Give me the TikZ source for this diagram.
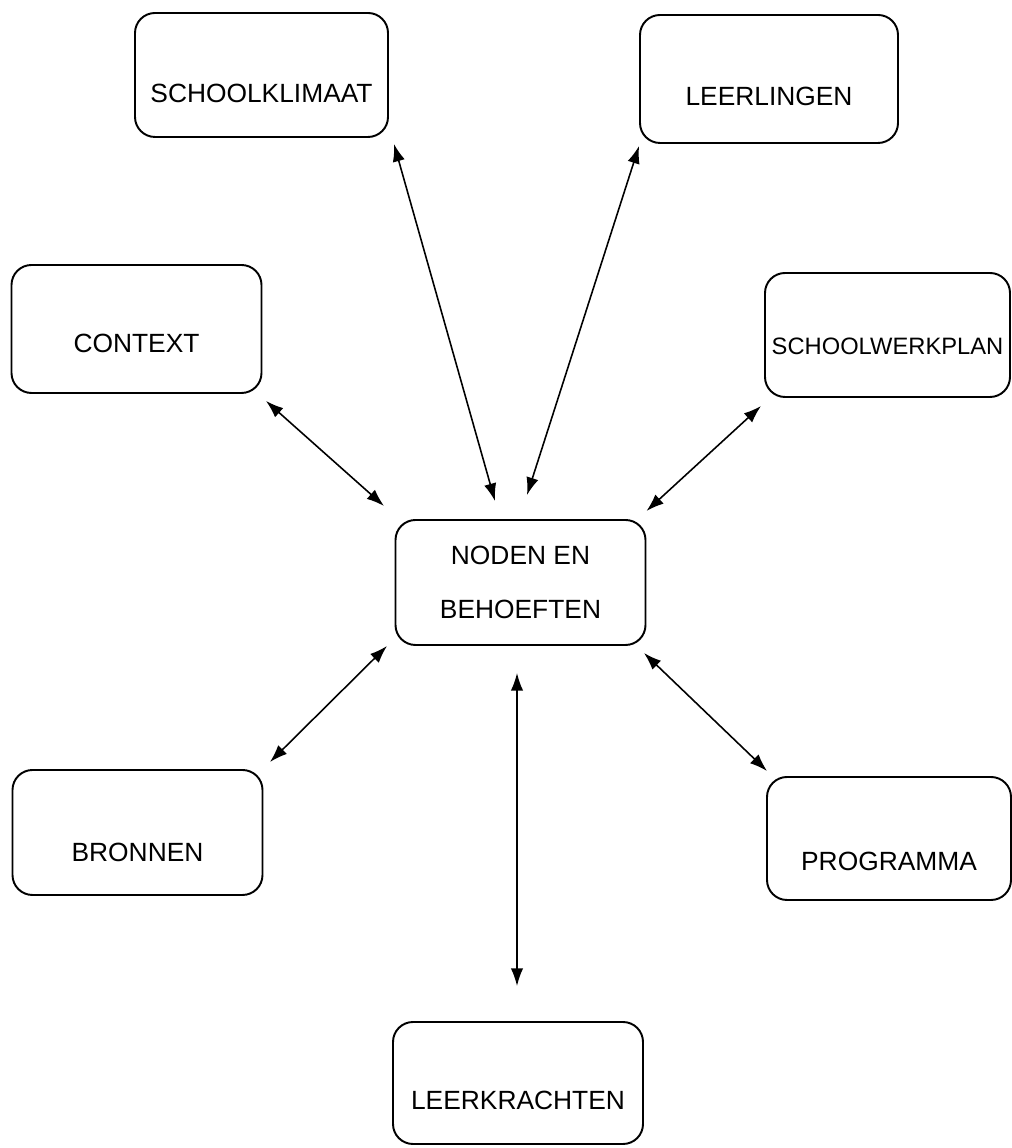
\documentclass[tikz,border=0pt]{standalone}
\usepackage{fontspec}
\setmainfont{Liberation Sans}
\usetikzlibrary{arrows.meta}

\tikzset{
	box/.style={draw=black, line width=1.1pt, rounded corners=0.4cm,
		minimum width=5cm, minimum height=2.5cm, inner sep=0pt,
		font=\fontsize{15pt}{18pt}\selectfont},
	lowtext/.style={text depth=0pt, text height=#1},
	link/.style={<->, >={Latex[length=10pt,width=7pt]}, line width=0.9pt}
}

\begin{document}
\begin{tikzpicture}
		\useasboundingbox (0,0) rectangle (20.22,22.96);
		\node[box, lowtext=1.12cm, minimum width=5.06cm, minimum height=2.48cm] (klimaat) at (5.23,21.46) {SCHOOLKLIMAAT};
		\node[box, lowtext=1.06cm, minimum width=5.16cm, minimum height=2.56cm] (leerlingen) at (15.38,21.38) {LEERLINGEN};
		\node[box, lowtext=0.94cm, minimum height=2.56cm] (context) at (2.73,16.38) {CONTEXT};
		\node[box, lowtext=0.79cm, minimum width=4.9cm, minimum height=2.48cm,
			font=\fontsize{13.5pt}{16pt}\selectfont] (werkplan) at (17.75,16.26) {SCHOOLWERKPLAN};
		\node[box, align=center, font=\fontsize{15pt}{30.6pt}\selectfont] (noden) at (10.41,11.31) {NODEN EN\\BEHOEFTEN};
		\node[box, lowtext=1.16cm] (bronnen) at (2.75,6.31) {BRONNEN};
		\node[box, lowtext=1.28cm, minimum width=4.88cm, minimum height=2.46cm] (programma) at (17.78,6.19) {PROGRAMMA};
		\node[box, lowtext=1.08cm, minimum height=2.44cm] (leerkrachten) at (10.36,1.30) {LEERKRACHTEN};

		\draw[link] ([shift={(0.10,-0.12)}]klimaat.south east) -- ([shift={(-0.51,0.36)}]noden.north);
		\draw[link] ([shift={(0,-0.04)}]leerlingen.south west) -- ([shift={(0.13,0.48)}]noden.north);
		\draw[link] ([shift={(0.07,-0.14)}]context.south east) -- ([shift={(-0.21,0.26)}]noden.north west);
		\draw[link] ([shift={(-0.06,-0.16)}]werkplan.south west) -- ([shift={(0,0.16)}]noden.north east);
		\draw[link] ([shift={(-0.15,0)}]noden.south west) -- ([shift={(0.13,0.14)}]bronnen.north east);
		\draw[link] ([shift={(-0.05,-0.14)}]noden.south east) -- ([shift={(0.02,0.10)}]programma.north west);
		\draw[link] ([shift={(-0.07,-0.54)}]noden.south) -- ([shift={(-0.02,0.70)}]leerkrachten.north);
	\end{tikzpicture}
\end{document}
